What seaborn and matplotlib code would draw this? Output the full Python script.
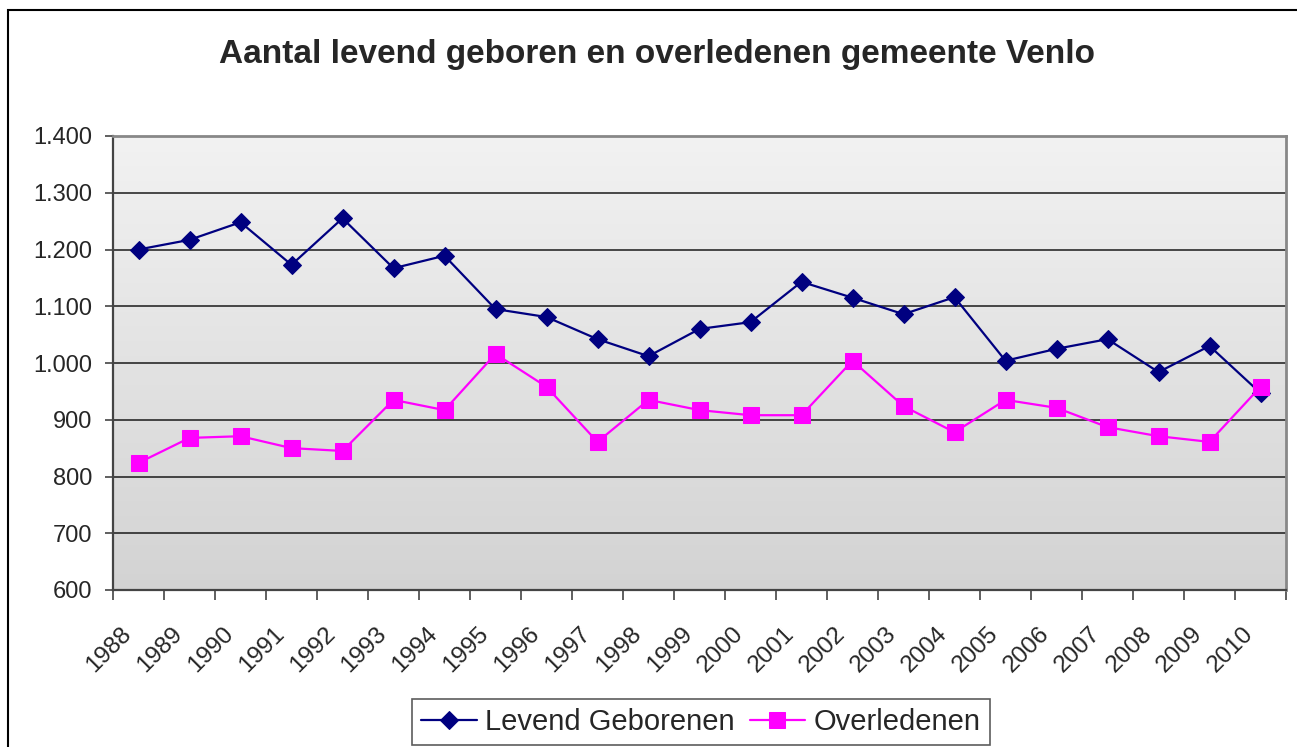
import numpy as np
import pandas as pd
import matplotlib.pyplot as plt
import seaborn as sns
from matplotlib.ticker import FuncFormatter, FixedLocator
from matplotlib.patches import Rectangle
from matplotlib.colors import LinearSegmentedColormap

# data
years = list(range(1988, 2011))
geboren = [1200, 1217, 1248, 1173, 1255, 1167, 1189, 1095, 1081, 1042, 1012, 1060,
           1072, 1143, 1115, 1086, 1116, 1004, 1025, 1042, 984, 1030, 947]
overleden = [824, 868, 871, 850, 845, 935, 917, 1016, 958, 861, 935, 917,
             908, 908, 1004, 924, 878, 935, 921, 887, 871, 861, 958]

sns.set_theme(style="white")
plt.rcParams['font.family'] = ['Liberation Sans', 'DejaVu Sans']

df = pd.DataFrame({"pos": np.arange(len(years)), "geboren": geboren, "overleden": overleden})

fig = plt.figure(figsize=(12.97, 7.47), dpi=100)
ax = fig.add_axes([113 / 1297, 1 - 590 / 747, (1286 - 113) / 1297, (590 - 136) / 747])

# gradient background of the plot area (light at top, darker at bottom)
grad = np.linspace(0, 1, 256).reshape(-1, 1)
cmap = LinearSegmentedColormap.from_list("g", ["#f2f2f2", "#d3d3d3"])
ax.imshow(grad, cmap=cmap, origin="upper",
          extent=[-0.5, len(years) - 0.5, 600, 1400], aspect="auto", zorder=0)

sns.lineplot(data=df, x="pos", y="geboren", ax=ax, color="#000080", marker="D",
             markersize=9, markeredgecolor="#000080", linewidth=1.6,
             label="Levend Geborenen", zorder=3)
sns.lineplot(data=df, x="pos", y="overleden", ax=ax, color="#ff00ff", marker="s",
             markersize=12, markeredgecolor="#ff00ff", linewidth=1.6,
             label="Overledenen", zorder=4)

ax.set_xlim(-0.5, len(years) - 0.5)
ax.set_ylim(600, 1400)
ax.set_yticks(range(600, 1401, 100))
ax.yaxis.set_major_formatter(FuncFormatter(lambda v, p: f"{int(v):,}".replace(",", ".")))
ax.yaxis.grid(True, color="#1a1a1a", linewidth=1.1)
ax.set_axisbelow(True)
ax.set_xlabel("")
ax.set_ylabel("")

# year labels sit a little left of each category centre, like Excel does
ax.set_xticks(np.arange(len(years)) - 0.2)
ax.set_xticklabels([str(y) for y in years], rotation=45, ha="right", va="center",
                   rotation_mode="anchor", fontsize=17.5)
ax.xaxis.set_minor_locator(FixedLocator(np.arange(-0.5, len(years), 1)))
ax.tick_params(axis="x", which="major", length=0, pad=29)
ax.tick_params(axis="x", which="minor", bottom=True, length=7, width=1.2, color="#444444")
ax.tick_params(axis="y", left=True, length=6, width=1.2, color="#444444", labelsize=17, pad=9)

for s in ["left", "bottom"]:
    ax.spines[s].set_color("#444444")
    ax.spines[s].set_linewidth(1.6)
for s in ["top", "right"]:
    ax.spines[s].set_color("#888888")
    ax.spines[s].set_linewidth(2)

fig.text(657 / 1297, 1 - 63 / 747, "Aantal levend geboren en overledenen gemeente Venlo",
         ha="center", va="baseline", fontsize=24, fontweight="bold")

leg = ax.legend(loc="upper center", bbox_to_anchor=(701 / 1297, 1 - 699 / 747),
                bbox_transform=fig.transFigure, ncol=2, fontsize=21, frameon=True,
                fancybox=False, edgecolor="#333333", handlelength=1.9,
                columnspacing=0.5, handletextpad=0.3, borderpad=0.3,
                borderaxespad=0, markerscale=1.0)
leg.get_frame().set_linewidth(1.2)

# outer chart border
fig.patches.append(Rectangle((8 / 1297, -0.05), 1.1, 1 - 10 / 747 + 0.05,
                             transform=fig.transFigure, fill=False,
                             edgecolor="black", linewidth=1.5))

fig.savefig("out.png", dpi=100)
